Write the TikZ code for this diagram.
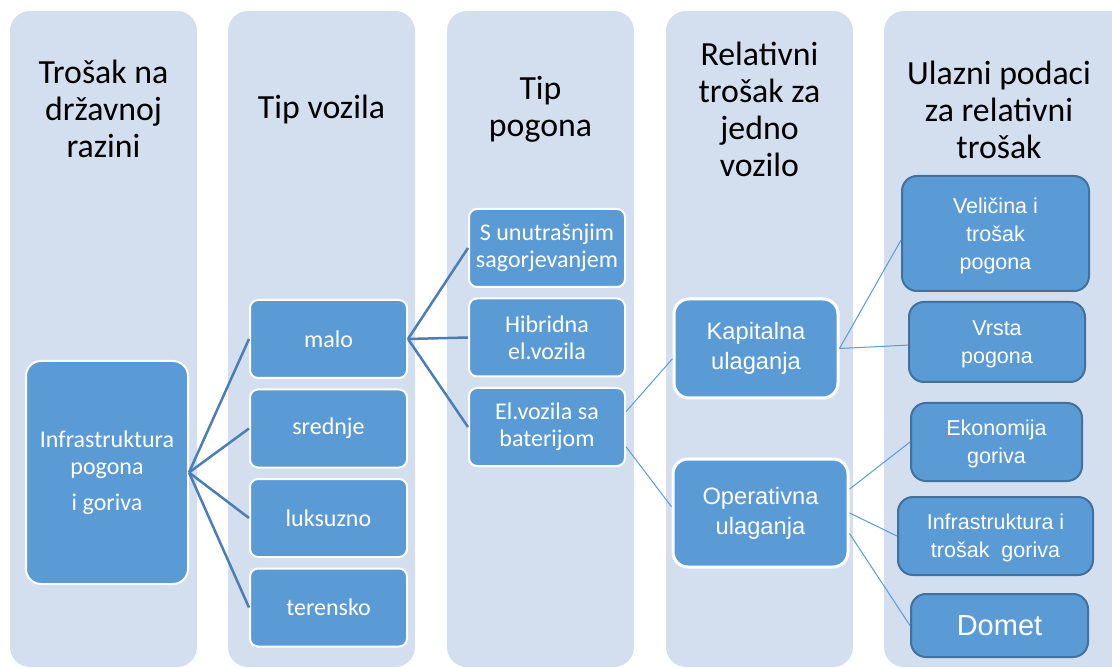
\documentclass[tikz,border=0pt]{standalone}
\usepackage{fontspec}
\setmainfont{Carlito}
\newfontfamily\arialfont{Liberation Sans}
\usetikzlibrary{positioning}

\definecolor{colbg}{HTML}{D3DEEF}
\definecolor{boxblue}{HTML}{5B9BD5}
\definecolor{boxedge}{HTML}{41719C}
\definecolor{linkblue}{HTML}{4A7EB4}

\begin{document}
\begin{tikzpicture}[x=1pt,y=-1pt,node distance=89.5pt,
                    every text node part/.style={align=center}]
  \tikzstyle{colhead}=[text=black,font=\fontsize{33.8}{37}\selectfont]
  \tikzstyle{lvl}=[fill=boxblue,draw=white,line width=2pt,text=white,
                   inner sep=0pt,rounded corners=8pt,
                   font=\fontsize{24}{27}\selectfont]
  \tikzstyle{cost}=[lvl,rounded corners=15pt,line width=3pt,
                    font=\arialfont\fontsize{23.7}{30}\selectfont]
  \tikzstyle{input}=[fill=boxblue,draw=boxedge,line width=2pt,text=white,
                     inner sep=0pt,rounded corners=15pt,text depth=-5.5pt,
                     font=\arialfont\fontsize{21.5}{28}\selectfont]
  \tikzstyle{thick link}=[draw=linkblue,line width=2.5pt]
  \tikzstyle{thin link}=[draw=boxblue,line width=1pt]

  \useasboundingbox (0,0) rectangle (1112,668);
  \clip (0,0) rectangle (1112,668);

  % columns
  \foreach \x in {10,228,447,666}
    \fill[colbg,rounded corners=20pt] (\x,11) rectangle ++(187,656);
  \fill[colbg,rounded corners=20pt] (884,11) rectangle (1150,667);

  \node[colhead] (h1) at (103.5,109) {Trošak na\\državnoj\\razini};
  \node[colhead] (h2) at (321.5,109) {Tip vozila};
  \node[colhead] (h3) at (540.5,109) {Tip\\pogona};
  \node[colhead] (h4) at (759.5,109) {Relativni\\trošak za\\jedno\\vozilo};
  \node[colhead] (h5) at (999,110)   {Ulazni podaci\\za relativni\\trošak};

  \node[lvl,rounded corners=15pt,minimum width=162pt,minimum height=223pt]
        (inf) at (107,472.5) {Infrastruktura\\pogona\\[9pt]i goriva};

  \node[lvl,minimum width=157pt,minimum height=78pt] (v1) at (328.5,339) {malo};
  \node[lvl,minimum width=157pt,minimum height=78pt] (v2) [below of=v1] {srednje};
  \node[lvl,minimum width=157pt,minimum height=78pt] (v3) [below of=v2] {luksuzno};
  \node[lvl,minimum width=157pt,minimum height=78pt] (v4) [below of=v3] {terensko};

  \node[lvl,minimum width=156pt,minimum height=78pt] (p1) at (547,248) {S unutrašnjim\\sagorjevanjem};
  \node[lvl,minimum width=156pt,minimum height=78pt] (p2) [below of=p1] {Hibridna\\el.vozila};
  \node[lvl,minimum width=156pt,minimum height=78pt] (p3) [below of=p2] {El.vozila sa\\baterijom};

  \node[cost,minimum width=164pt,minimum height=99pt]  (k) at (756,348.5) {Kapitalna\\ulaganja};
  \node[cost,minimum width=175pt,minimum height=108pt] (o) at (760.5,513) {Operativna\\ulaganja};

  \node[input,minimum width=187pt,minimum height=115pt] (u1) at (995.5,233.5) {Veličina i\\trošak\\pogona};
  \node[input,minimum width=176pt,minimum height=80pt]  (u2) at (997,342)     {Vrsta\\pogona};
  \node[input,minimum width=171pt,minimum height=78pt]  (u3) at (996.5,442)   {Ekonomija\\goriva};
  \node[input,minimum width=195pt,minimum height=78pt]  (u4) at (995.5,536)   {Infrastruktura i\\trošak\ \ goriva};
  \node[input,minimum width=177pt,minimum height=63pt,
        font=\arialfont\fontsize{29}{34}\selectfont] (u5) at (999.5,625.5) {Domet};

  \path[thick link] (inf.east) edge (v1.west)
                    (inf.east) edge (v2.west)
                    (inf.east) edge (v3.west)
                    (inf.east) edge (v4.west)
                    (v1.east)  edge (p1.west)
                    (v1.east)  edge (p2.west)
                    (v1.east)  edge (p3.west);

  \path[thin link] (p3.11)  edge (k.187)
                   (p3.-14) edge (o.176)
                   (k.east) edge (u1.184)
                   (k.east) edge (u2.182)
                   (o.15)   edge (u3.west)
                   (o.east) edge (u4.west)
                   (o.-13)  edge (u5.west);
\end{tikzpicture}
\end{document}
